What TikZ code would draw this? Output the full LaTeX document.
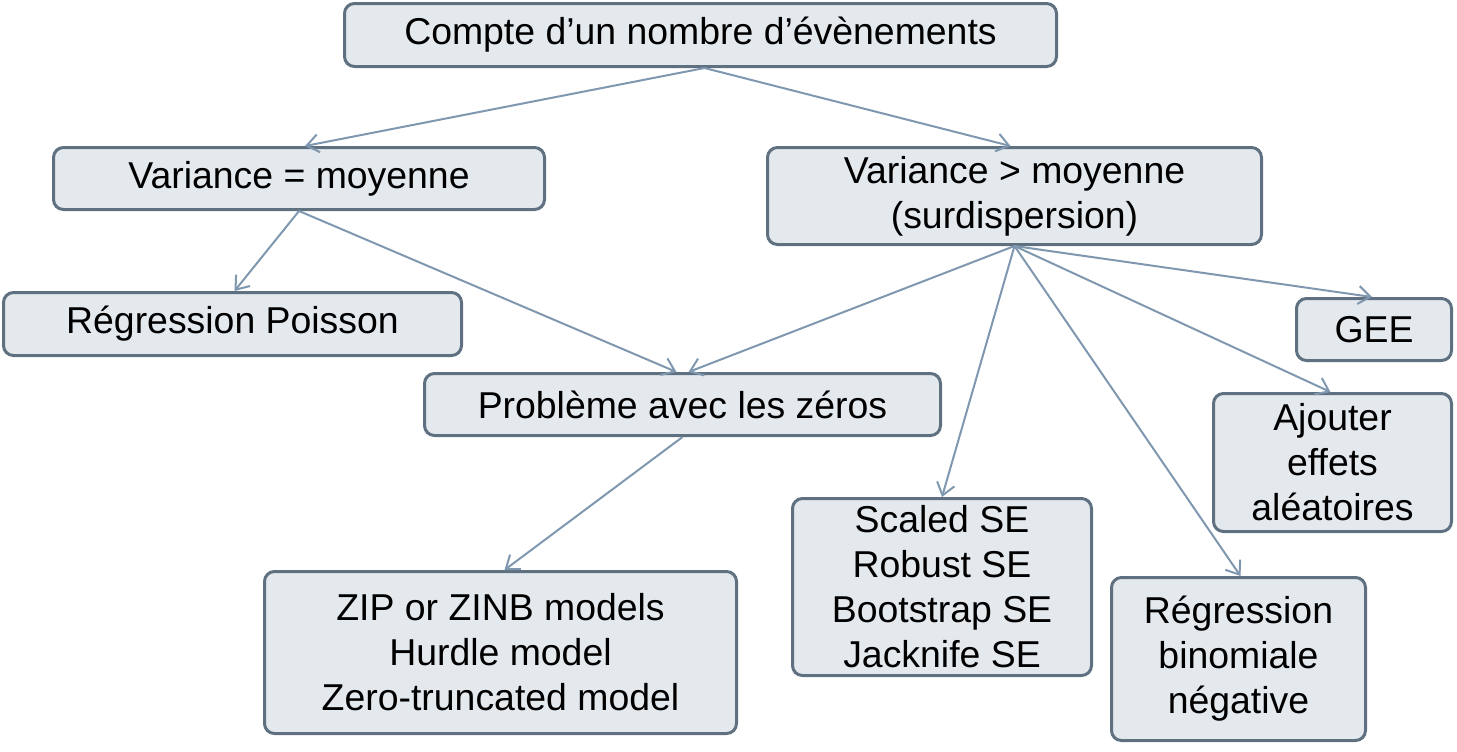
\documentclass[tikz,border=0pt]{standalone}
\usepackage{fontspec}
\setmainfont{Liberation Sans}
\usetikzlibrary{arrows.meta}
\definecolor{boxline}{HTML}{5F7080}
\definecolor{boxfill}{HTML}{E4E9EE}
\definecolor{arrowline}{HTML}{7F98AF}
\begin{document}
\begin{tikzpicture}[x=0.5pt,y=-0.5pt,
    box/.style={draw=boxline,fill=boxfill,line width=1.5pt,rounded corners=5pt,
      align=center,inner sep=0pt,font=\fontsize{18.7}{22.5}\selectfont},
    link/.style={draw=arrowline,line width=1pt,-{Straight Barb[length=6pt,width=9pt]}}]
        \useasboundingbox (0,0) rectangle (1457,751);

        \node [box,minimum width=356pt,minimum height=31.5pt] (count) at (700.5,35) {Compte d’un nombre d’évènements};
        \node [box,minimum width=245.5pt,minimum height=31pt] (vareq) at (299,178.5) {Variance = moyenne};
        \node [box,minimum width=247pt,minimum height=48.5pt] (vargt) at (1014.5,196) {Variance > moyenne\\(surdispersion)};
        \node [box,minimum width=229pt,minimum height=31.5pt] (poisson) at (232.5,324) {Régression Poisson};
        \node [box,minimum width=258pt,minimum height=31pt] (zeros) at (682.5,404.5) {Problème avec les zéros};
        \node [box,minimum width=77.5pt,minimum height=31pt] (gee) at (1374,329.5) {GEE};
        \node [box,minimum width=119pt,minimum height=69pt] (aleat) at (1332.5,462.5) {Ajouter\\effets\\aléatoires};
        \node [box,minimum width=149.5pt,minimum height=88.5pt] (se) at (942,587) {Scaled SE\\Robust SE\\Bootstrap SE\\Jacknife SE};
        \node [box,minimum width=236pt,minimum height=81pt] (zip) at (500.5,652.5) {ZIP or ZINB models\\Hurdle model\\Zero-truncated model};
        \node [box,minimum width=127pt,minimum height=81.5pt] (binom) at (1238.5,659) {Régression\\binomiale\\négative};

        \draw [link] ([xshift=2pt]count.south) -- ([xshift=3pt]vareq.north);
        \draw [link] ([xshift=2pt]count.south) -- ([xshift=-2pt]vargt.north);
        \draw [link] (vareq.south) -- ([xshift=1pt]poisson.north);
        \draw [link] (vareq.south) -- ([xshift=-3pt]zeros.north);
        \draw [link] (vargt.south) -- ([xshift=3pt]zeros.north);
        \draw [link] (vargt.south) -- (se.north);
        \draw [link] (vargt.south) -- ([xshift=1pt]binom.north);
        \draw [link] (vargt.south) -- ([xshift=-1pt]aleat.north);
        \draw [link] (vargt.south) -- ([xshift=-1pt]gee.north);
        \draw [link] (zeros.south) -- ([xshift=2pt]zip.north);
      \end{tikzpicture}
\end{document}
